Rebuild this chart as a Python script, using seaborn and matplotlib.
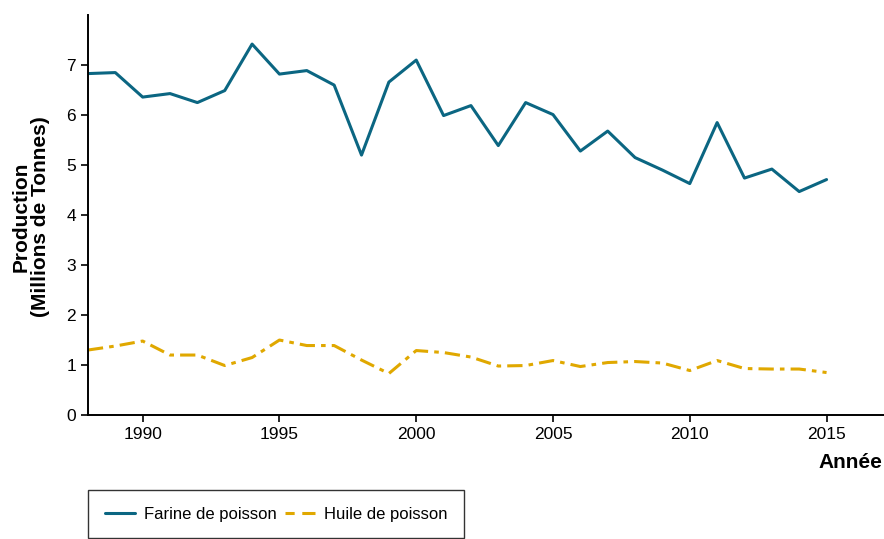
import numpy as np
import pandas as pd
import matplotlib.pyplot as plt
import seaborn as sns

# Production de farine et d'huile de poisson (millions de tonnes)
annees = list(range(1988, 2016))
farine = [6.83, 6.85, 6.36, 6.43, 6.25, 6.49, 7.42, 6.82, 6.89, 6.60,
          5.20, 6.66, 7.10, 5.99, 6.19, 5.39, 6.25, 6.01, 5.28, 5.68,
          5.15, 4.90, 4.63, 5.85, 4.74, 4.92, 4.47, 4.71]
huile = [1.30, 1.38, 1.48, 1.20, 1.20, 0.99, 1.15, 1.50, 1.39, 1.39,
         1.10, 0.83, 1.29, 1.25, 1.16, 0.98, 0.99, 1.09, 0.97, 1.05,
         1.07, 1.04, 0.89, 1.09, 0.93, 0.92, 0.92, 0.85]
noms = ['Farine de poisson', 'Huile de poisson']
couleurs = ['#0b6682', '#e0a800']

df = pd.DataFrame({'Année': annees, noms[0]: farine, noms[1]: huile})
df_long = df.melt(id_vars='Année', var_name='Produit', value_name='Production')

sns.set_style('ticks')
plt.rcParams['font.family'] = ['Liberation Sans', 'DejaVu Sans']
plt.rcParams['text.color'] = 'black'
plt.rcParams['axes.labelcolor'] = 'black'

fig = plt.figure(figsize=(8.84, 5.39), dpi=100)
ax = fig.add_axes([0.0995, 0.23, 0.9005, 0.742])

sns.lineplot(data=df_long, x='Année', y='Production', hue='Produit', style='Produit',
             palette=couleurs, dashes=['', (5, 2, 1.5, 2)], linewidth=2.2,
             ax=ax, legend=False)

ax.set_xlim(1988, 2017.1)
ax.set_ylim(0, 8.0)
ax.set_xticks([1990, 1995, 2000, 2005, 2010, 2015])
ax.set_yticks(range(0, 8))
ax.tick_params(labelsize=12.5, length=5, width=1.2, colors='black')
for s in ['top', 'right']:
    ax.spines[s].set_visible(False)
for s in ['left', 'bottom']:
    ax.spines[s].set_linewidth(1.4)
    ax.spines[s].set_color('black')

ax.set_xlabel('Année', fontsize=15, fontweight='bold')
ax.xaxis.set_label_coords(0.958, -0.095)
ax.set_ylabel('Production\n(Millions de Tonnes)', fontsize=15, fontweight='bold',
              linespacing=1.0)
ax.yaxis.set_label_coords(-0.048, 0.495)

handles = [plt.Line2D([], [], color=couleurs[0], lw=2.2),
           plt.Line2D([], [], color=couleurs[1], lw=2.2, dashes=(3, 2.5, 7, 2))]
leg = fig.legend(handles, noms, loc='upper left', bbox_to_anchor=(0.0995, 0.091),
                 ncol=2, frameon=True, fancybox=False, fontsize=12,
                 handlelength=1.8, columnspacing=0.5, handletextpad=0.55,
                 borderpad=1.0, borderaxespad=0)
leg.get_frame().set_edgecolor('black')
leg.get_frame().set_linewidth(1.0)

fig.savefig('out.png', dpi=100)
